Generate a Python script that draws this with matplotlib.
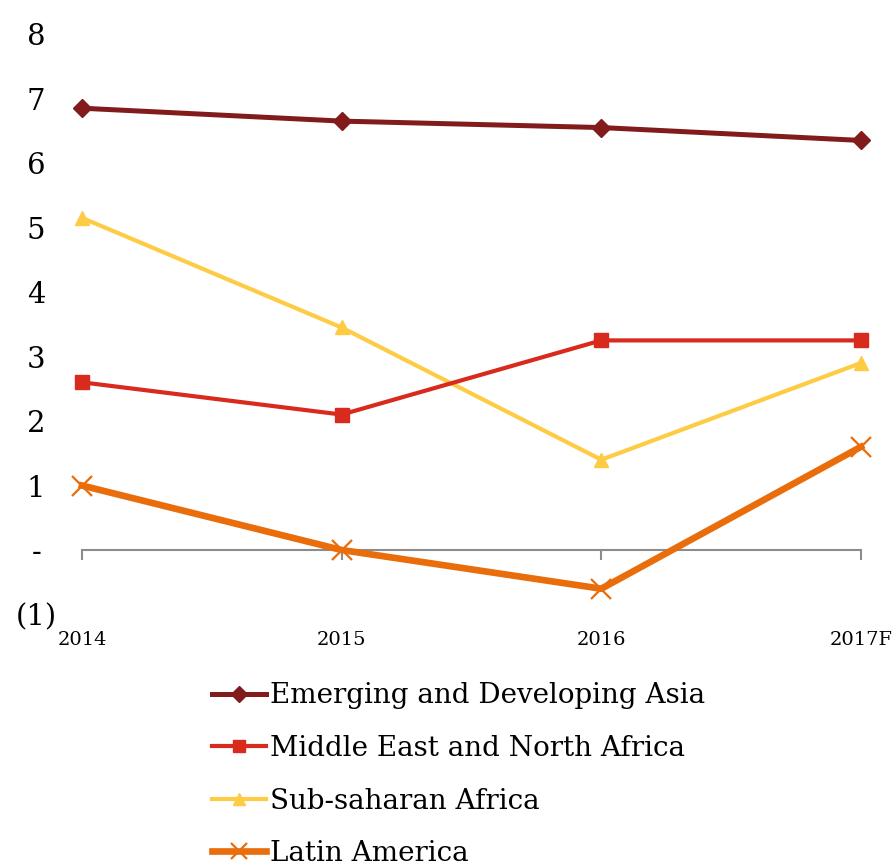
import matplotlib
matplotlib.use("Agg")
import matplotlib.pyplot as plt

plt.rcParams.update({
    "font.family": ["DejaVu Serif"],
    "font.size": 14,
})

YEARS = ["2014", "2015", "2016", "2017F"]
ASIA = [6.85, 6.65, 6.55, 6.35]
MENA = [2.6, 2.1, 3.25, 3.25]
SSA = [5.15, 3.45, 1.4, 2.9]
LATAM = [1.0, 0.0, -0.6, 1.6]
Y_TICKS = [-1, 0, 1, 2, 3, 4, 5, 6, 7, 8]
Y_LABELS = ["(1)", "-", "1", "2", "3", "4", "5", "6", "7", "8"]

C_ASIA = "#821B1B"
C_MENA = "#D82A1D"
C_SSA = "#FECB45"
C_LATAM = "#E96D0A"

fig = plt.figure(figsize=(8.92, 8.66), dpi=100)
ax = fig.add_axes([0.0919, 0.2904, 0.8733, 0.6703])

x = range(len(YEARS))
common = dict(clip_on=False)
ax.plot(x, ASIA, color=C_ASIA, lw=3.6, marker="D", ms=9,
        label="Emerging and Developing Asia", zorder=4, **common)
ax.plot(x, MENA, color=C_MENA, lw=3.0, marker="s", ms=9.5,
        label="Middle East and North Africa", zorder=3, **common)
ax.plot(x, SSA, color=C_SSA, lw=3.0, marker="^", ms=10.5,
        label="Sub-saharan Africa", zorder=2, **common)
ax.plot(x, LATAM, color=C_LATAM, lw=4.8, marker="x", ms=14, mew=1.6,
        label="Latin America", zorder=5, **common)

ax.set_xlim(0, len(YEARS) - 1)
ax.set_ylim(-1, 8)
ax.set_xticks(list(x))
ax.set_xticklabels(YEARS, fontsize=11)
ax.set_yticks(Y_TICKS)
ax.set_yticklabels(Y_LABELS, fontsize=21, ha="center")

# zero line doubles as the category axis
for side in ("top", "right", "left"):
    ax.spines[side].set_visible(False)
ax.spines["bottom"].set_position(("data", 0))
ax.spines["bottom"].set_color("#8C8C8C")
ax.spines["bottom"].set_linewidth(1.5)
ax.tick_params(axis="x", direction="out", length=7, width=1.5,
               color="#8C8C8C", pad=51)
ax.tick_params(axis="y", length=0, pad=33)

fig.legend(loc="upper left", bbox_to_anchor=(0.2377, 0.212),
           bbox_transform=fig.transFigure, frameon=False, fontsize=20,
           handlelength=1.95, handletextpad=0.15, labelspacing=0.92,
           borderaxespad=0, borderpad=0, markerscale=0.85)

fig.savefig("out.png", dpi=100)
